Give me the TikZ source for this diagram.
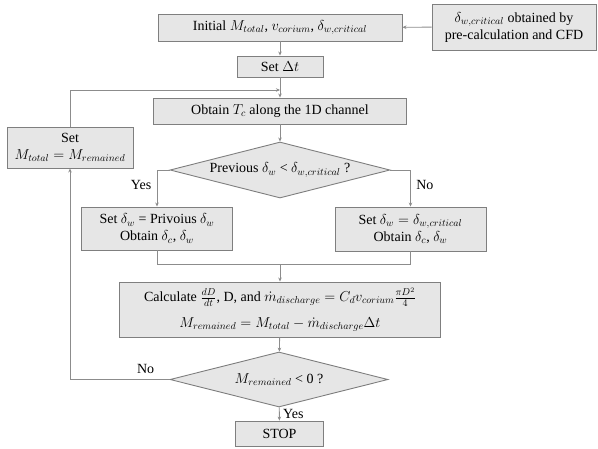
\documentclass[tikz,border=0pt]{standalone}
\usepackage{fontspec}
\setmainfont{Liberation Serif}
\usetikzlibrary{arrows.meta, shapes.geometric}

\definecolor{boxfill}{HTML}{E6E6E6}
\definecolor{boxline}{HTML}{7F7F7F}
\definecolor{linecol}{HTML}{8C8C8C}

\begin{document}
\begin{tikzpicture}[x=1pt, y=-1pt, font=\fontsize{14}{17}\selectfont,
	box/.style={draw=boxline, fill=boxfill, line width=0.9pt, inner sep=0pt, align=center},
	decision/.style={diamond, aspect=4, draw=boxline, fill=boxfill, line width=0.9pt, inner sep=0pt, align=center},
	link/.style={draw=linecol, line width=0.9pt},
	flow/.style={link, -{Stealth[length=4pt, width=3.5pt]}}]
	
	\useasboundingbox (0,0) rectangle (598,448);
	
	% --- MAIN COLUMN ---
	\node[box, minimum width=244, minimum height=27] (init) at (280,27.5) {Initial $M_{total}$, $v_{corium}$, $\delta_{w,critical}$};
	\node[box, minimum width=164, minimum height=46] (cfd) at (514,27) {$\delta_{w,critical}$ obtained by\\pre-calculation and CFD};
	\node[box, minimum width=86, minimum height=21] (setdt) at (280,66.5) {Set $\Delta t$};
	\node[box, minimum width=253, minimum height=26] (obtain) at (280,111) {Obtain $T_c$ along the 1D channel};
	\node[decision, minimum width=220, minimum height=56] (dia1) at (280,170) {Previous $\delta_w$ < $\delta_{w,critical}$ ?};
	
	% --- THE TWO BRANCHES ---
	\node[box, minimum width=151, minimum height=43] (setL) at (157,228.5) {Set $\delta_w$ = Privoius $\delta_w$\\Obtain $\delta_c$, $\delta_w$};
	\node[box, minimum width=151, minimum height=44] (setR) at (410.5,229) {Set $\delta_w = \delta_{w,critical}$\\Obtain $\delta_c$, $\delta_w$};
	
	\node[box, minimum width=321, minimum height=55] (calc) at (280,309.5) {Calculate $\frac{dD}{dt}$, D, and $\dot{m}_{discharge} = C_d v_{corium}\frac{\pi D^2}{4}$\\[9pt]$M_{remained} = M_{total} - \dot{m}_{discharge}\Delta t$};
	\node[decision, minimum width=218, minimum height=55] (dia2) at (279,379.5) {$M_{remained}$ < 0 ?};
	\node[box, minimum width=88, minimum height=25] (stop) at (279.5,433.5) {STOP};
	
	% --- FEEDBACK ---
	\node[box, minimum width=126, minimum height=41] (setM) at (70,147.5) {Set\\$M_{total} = M_{remained}$};
	
	\coordinate (loopin) at (280,90);
	\coordinate (merge) at (280,264);
	
	% --- CONNECTORS ---
	\draw[flow] (cfd) -- (init);
	\draw[flow] (init) -- (setdt);
	\draw[flow] (setdt) -- (obtain);
	\draw[flow] (setM.north) |- (loopin);
	\draw[flow] (obtain) -- (dia1);
	\draw[flow] (dia1.west) -| (setL.north) node[pos=0.7, left=2pt] {Yes};
	\draw[flow] (dia1.east) -| (setR.north) node[pos=0.7, right=2pt] {No};
	\draw[link] (setL.south) |- (merge);
	\draw[link] (setR.south) |- (merge);
	\draw[flow] (merge) -- (calc);
	\draw[flow] (calc) -- (dia2);
	\draw[flow] (dia2.west) -| (setM.south) node[pos=0.12, above=2pt] {No};
	\draw[flow] (dia2) -- (stop) node[midway, right=0pt] {Yes};
	
\end{tikzpicture}
\end{document}
